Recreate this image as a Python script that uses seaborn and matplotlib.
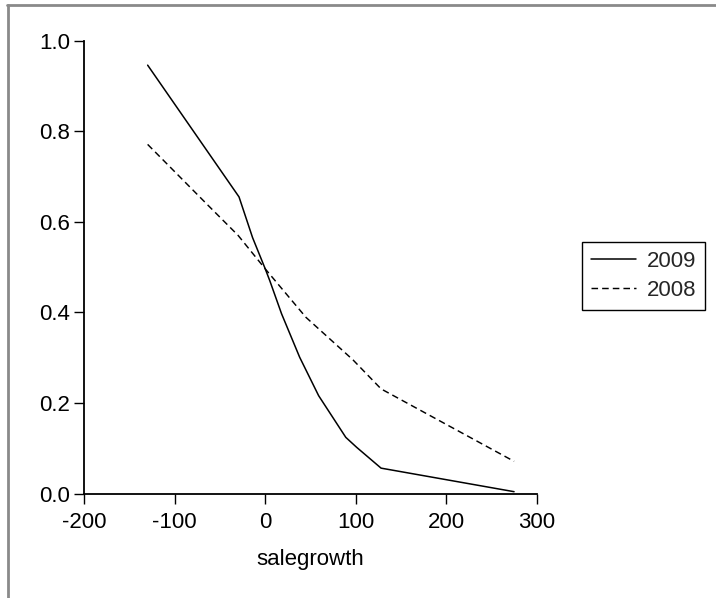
import matplotlib
matplotlib.use("Agg")
import matplotlib.pyplot as plt
import seaborn as sns
import pandas as pd
from matplotlib.lines import Line2D

# Data
x_2009 = [-130, -29, -14, 0, 5, 18, 38, 59, 89, 101, 128, 275]
y_2009 = [0.946, 0.655, 0.565, 0.496, 0.47, 0.397, 0.301, 0.216, 0.124, 0.102, 0.056, 0.004]
x_2008 = [-130, -65, -30, 0, 45, 97, 128, 275]
y_2008 = [0.771, 0.640, 0.570, 0.496, 0.389, 0.295, 0.231, 0.071]
series_labels = ["2009", "2008"]
x_ticks = [-200, -100, 0, 100, 200, 300]
y_ticks = [0.0, 0.2, 0.4, 0.6, 0.8, 1.0]
x_label = "salegrowth"

sns.set_theme(style="ticks")
plt.rcParams["font.family"] = ["Liberation Sans", "DejaVu Sans"]

W, H = 716, 598
FS = 16
fig = plt.figure(figsize=(W / 100, H / 100), dpi=100)
ax = fig.add_axes([84.3 / W, 1 - 493.5 / H, (536.7 - 84.3) / W, (493.5 - 40.7) / H])

DASH = (0, (4.5, 2.8))
df09 = pd.DataFrame({"x": x_2009, "y": y_2009})
df08 = pd.DataFrame({"x": x_2008, "y": y_2008})
sns.lineplot(data=df09, x="x", y="y", ax=ax, color="black", linewidth=1.1,
             errorbar=None, sort=False, label=series_labels[0])
sns.lineplot(data=df08, x="x", y="y", ax=ax, color="black", linewidth=1.05,
             linestyle=DASH, errorbar=None, sort=False, label=series_labels[1])

ax.set_xlim(-200, 300)
ax.set_ylim(0, 1.0)
ax.set_xticks(x_ticks)
ax.set_xticklabels([str(t) for t in x_ticks])
ax.set_yticks(y_ticks)
ax.set_yticklabels([f"{t:.1f}" for t in y_ticks])
ax.set_xlabel(x_label, fontsize=FS, labelpad=12, color="black")
ax.set_ylabel("")

for side in ["top", "right"]:
    ax.spines[side].set_visible(False)
for side in ["left", "bottom"]:
    ax.spines[side].set_color("black")
    ax.spines[side].set_linewidth(1.3)
ax.tick_params(axis="both", direction="out", length=7, width=1.0, colors="black",
               labelsize=FS)
ax.tick_params(axis="x", pad=6)
ax.tick_params(axis="y", pad=3)
ax.set_facecolor("white")

leg = ax.get_legend()
if leg is not None:
    leg.remove()
handles = [Line2D([0], [0], color="black", linewidth=1.1),
           Line2D([0], [0], color="black", linewidth=1.05, linestyle=DASH)]
lg = fig.legend(handles, series_labels, loc="upper left",
                bbox_to_anchor=(582 / W, 1 - 242 / H), fontsize=FS,
                frameon=True, fancybox=False, shadow=False, framealpha=1,
                handlelength=2.05, handletextpad=0.45, borderpad=0.4,
                labelspacing=0.35, borderaxespad=0)
lg.get_frame().set_edgecolor("black")
lg.get_frame().set_linewidth(1.0)

# Gray frame (top and left edges as in reference)
fig.add_artist(Line2D([7 / W, 1], [1 - 5 / H, 1 - 5 / H], transform=fig.transFigure,
                      color="#8a8a8a", linewidth=2.0))
fig.add_artist(Line2D([8 / W, 8 / W], [0, 1 - 5 / H], transform=fig.transFigure,
                      color="#8a8a8a", linewidth=2.0))

fig.savefig("out.png", dpi=100, facecolor="white")
